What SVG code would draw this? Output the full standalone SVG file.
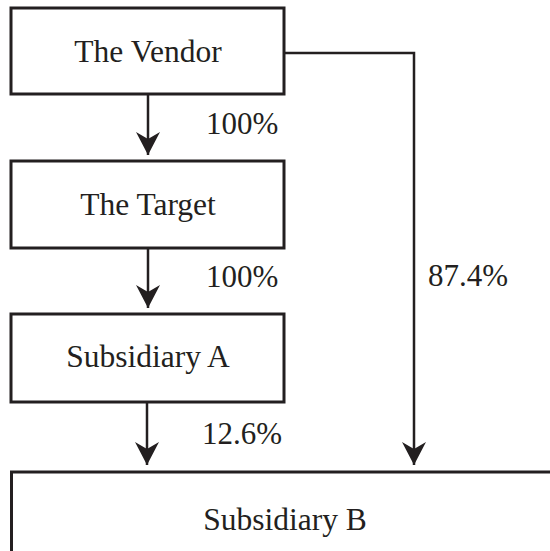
<svg xmlns="http://www.w3.org/2000/svg" width="550" height="551" viewBox="0 0 550 551">
<style>
.box{fill:#fff;stroke:#231f20;stroke-width:3}
.c{text-anchor:middle}
.ln{fill:none;stroke:#231f20;stroke-width:2.5}
</style>
<defs>
<marker id="ah" markerUnits="userSpaceOnUse" viewBox="-23 -13 24 26" refX="0" refY="0" markerWidth="24" markerHeight="26" orient="auto">
<path d="M0,0 L-23,-12 L-16,0 L-23,12 Z" fill="#231f20"/>
</marker>
</defs>
<rect width="550" height="551" fill="#fff"/>
<g id="connectors">
<line class="ln" x1="148" y1="94" x2="148" y2="155" marker-end="url(#ah)"/>
<line class="ln" x1="148" y1="248" x2="148" y2="308" marker-end="url(#ah)"/>
<line class="ln" x1="147" y1="403" x2="147" y2="465" marker-end="url(#ah)"/>
<polyline class="ln" points="284,53 414,53 414,465" marker-end="url(#ah)"/>
<g font-family="Liberation Serif, Times New Roman, serif" font-size="31" fill="#231f20">
<text x="206" y="134">100%</text>
<text x="206" y="287">100%</text>
<text x="202" y="444">12.6%</text>
<text x="428" y="286">87.4%</text>
</g>
</g>
<g font-family="Liberation Serif, Times New Roman, serif" font-size="31.5" fill="#231f20">
<g id="vendor">
<rect class="box" x="11" y="8" width="273" height="86"/>
<text class="c" x="148" y="62">The Vendor</text>
</g>
<g id="target">
<rect class="box" x="11" y="161" width="273" height="87"/>
<text class="c" x="148" y="215">The Target</text>
</g>
<g id="subA">
<rect class="box" x="11" y="314" width="273" height="88"/>
<text class="c" x="148" y="367">Subsidiary A</text>
</g>
<g id="subB">
<rect class="box" x="11.5" y="472" width="560" height="100"/>
<text class="c" x="285" y="530">Subsidiary B</text>
</g>
</g>
</svg>
